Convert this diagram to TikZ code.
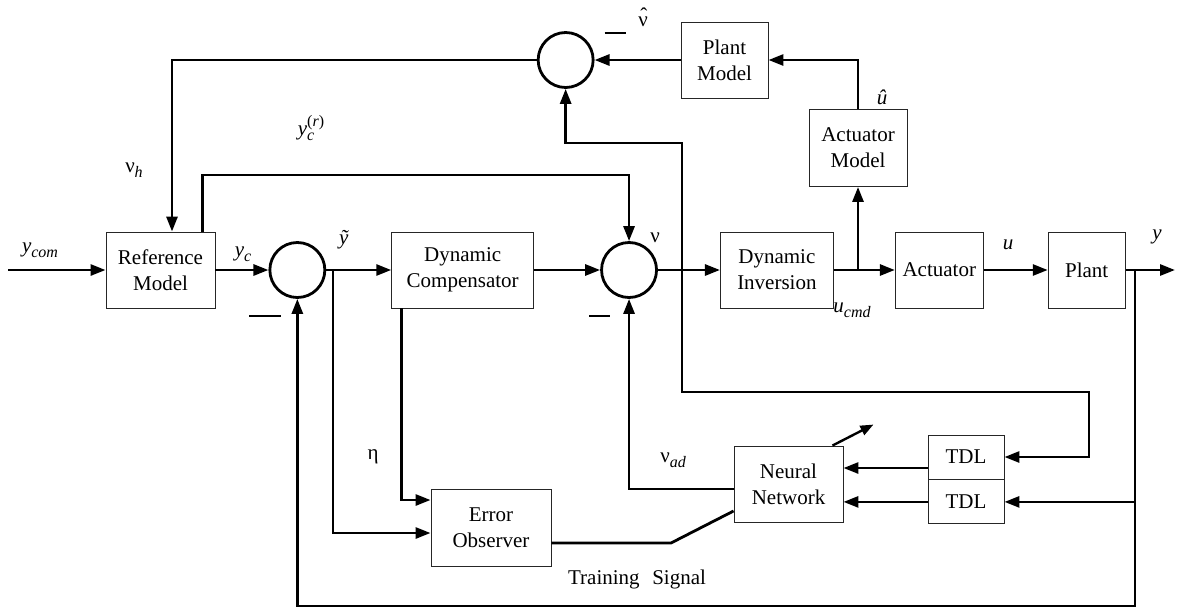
\documentclass[tikz,border=0pt]{standalone}
\usepackage{fontspec}
\setmainfont{Liberation Serif}
\usetikzlibrary{positioning, shapes, arrows.meta}

% pedici e accenti per le etichette
\newcommand{\lsub}[1]{\raisebox{-5pt}{\fontsize{16}{16}\selectfont\itshape #1}}
\newcommand{\lsup}[1]{\raisebox{9pt}{\fontsize{16}{16}\selectfont #1}}
\newcommand{\nuhat}{ν\llap{\raisebox{4pt}{ˆ}\hspace{0.5pt}}}

\begin{document}
\begin{tikzpicture}[x=1pt, y=-1pt,
    font=\fontsize{21}{26}\selectfont,
    blk/.style={rectangle, draw=black!85, line width=0.9pt, minimum height=76pt, inner sep=0pt, align=center},
    sum/.style={circle, draw, line width=2.8pt, minimum size=55pt, inner sep=0pt},
    sig/.style={line width=2.8pt, -{Triangle[length=15pt,width=11pt]}},
    wire/.style={line width=2.8pt},
    meno/.style={line width=2.8pt},
    lbl/.style={inner sep=0pt}]
    \useasboundingbox (0,0) rectangle (1177,611);

    % Catena principale
    \node[blk, minimum width=109pt] (ref) at (160.5,270) {Reference\\Model};
    \node[sum, right=53pt of ref] (sum1) {};
    \node[blk, minimum width=142pt, right=65pt of sum1] (dc) {Dynamic\\Compensator};
    \node[sum, right=66pt of dc] (sum2) {};
    \node[blk, minimum width=113pt, right=62pt of sum2] (di) {Dynamic\\Inversion};
    \node[blk, minimum width=88pt, right=61pt of di] (act) {Actuator};
    \node[blk, minimum width=77pt, right=64pt of act] (plant) {Plant};

    % Modelli in alto
    \node[blk, minimum width=98pt, minimum height=77pt] (am) at (858,148) {Actuator\\Model};
    \node[blk, minimum width=87pt] (pm) at (724.5,60) {Plant\\Model};
    \node[sum, left=86pt of pm] (sum0) {};

    % Rete neurale e osservatore
    \node[blk, minimum width=109pt] (nn) at (788.5,484) {Neural\\Network};
    \node[blk, minimum width=76pt, minimum height=44pt] (tdl1) at (966,457) {TDL};
    \node[blk, minimum width=76pt, minimum height=44pt, below=0pt of tdl1] (tdl2) {TDL};
    \node[blk, minimum width=120pt, minimum height=77pt] (eo) at (491,527.5) {Error\\Observer};

    % Punti di diramazione
    \coordinate (in) at (8,270);
    \coordinate (out) at (1175,270);
    \coordinate (ucmd) at (am.south |- act.west);
    \coordinate (ybr) at (1135,270);
    \coordinate (ytil) at (333,270);
    \coordinate (nutap) at (682,270);
    \coordinate (t1) at ([yshift=-11pt]tdl1.west);
    \coordinate (tsbend) at (671,543);
    \coordinate (nnadj) at ([xshift=-11pt]nn.north east);

    % Connessioni principali
    \draw[sig] (in) -- (ref);
    \draw[sig] (ref) -- (sum1);
    \draw[sig] (sum1) -- (dc);
    \draw[sig] (dc) -- (sum2);
    \draw[sig] (sum2) -- (di);
    \draw[sig] (di) -- (act);
    \draw[sig] (act) -- (plant);
    \draw[sig] (plant) -- (out);

    % Retroazioni
    \draw[sig] (ybr) -- (ybr |- 0,606) -| (sum1.south);
    \draw[sig] ([xshift=42pt]ref.north) |- (sum2.north |- 0,175) -- (sum2.north);
    \draw[sig] (sum0.west) -| ([xshift=11.5pt]ref.north);
    \draw[sig] (nutap) |- (sum0.south |- 0,143) -- (sum0.south);
    \draw[sig] (nutap) |- (1089,392) |- (tdl1.east);
    \draw[sig] (tdl2.east -| ybr) -- (tdl2.east);

    % Modello dell'attuatore e dell'impianto
    \draw[sig] (ucmd) -- (am.south);
    \draw[sig] (am.north) |- (pm.east);
    \draw[sig] (pm.west) -- (sum0.east);

    % Rete neurale
    \draw[sig] (t1) -- (t1 -| nn.east);
    \draw[sig] (tdl2.west) -- (tdl2.west -| nn.east);
    \draw[sig] ([yshift=-5pt]nn.west) -| (sum2.south);
    \draw[sig] ([xshift=-61pt]dc.south) |- ([yshift=27.5pt]eo.west);
    \draw[sig] (ytil) |- ([yshift=-5.5pt]eo.west);
    \draw[wire] ([yshift=-15.5pt]eo.east) -- (tsbend) -- ([yshift=-27pt]nn.west);
    \draw[line width=2.4pt, -{Triangle[length=13pt,width=10pt]}] (nnadj) -- ++(41,-21);

    % Segni meno
    \draw[meno] ([shift={(-48,46)}]sum1.center) -- ++(32,0);
    \draw[meno] ([shift={(-40,46)}]sum2.center) -- ++(21,0);
    \draw[meno] ([shift={(39,-27)}]sum0.center) -- ++(21,0);

    % Etichette
    \node[lbl] (l_ycom) at (40,250) {\textit{y}\lsub{com}};
    \node[lbl] (l_nuh) at (134,170) {ν\lsub{h}};
    \node[lbl] (l_ycr) at (311,128) {\textit{y}\rlap{\lsub{c}}\lsup{(\textit{r})}};
    \node[lbl] (l_yc) at (243,254) {\textit{y}\lsub{c}};
    \node[lbl] (l_ytil) at (344,240) {\textit{ỹ}};
    \node[lbl] (l_nu) at (655,238) {ν};
    \node[lbl] (l_nuhat) at (643,17) {\nuhat};
    \node[lbl] (l_uhat) at (882,97) {\textit{û}};
    \node[lbl] (l_ucmd) at (852,310) {\textit{u}\lsub{cmd}};
    \node[lbl] (l_u) at (1008,245) {\textit{u}};
    \node[lbl] (l_y) at (1157,237) {\textit{y}};
    \node[lbl] (l_eta) at (373,457) {η};
    \node[lbl] (l_nuad) at (673,460) {ν\lsub{ad}};
    \node[lbl] (l_train) at (637,579) {Training\hspace{0.6em}Signal};
\end{tikzpicture}
\end{document}
